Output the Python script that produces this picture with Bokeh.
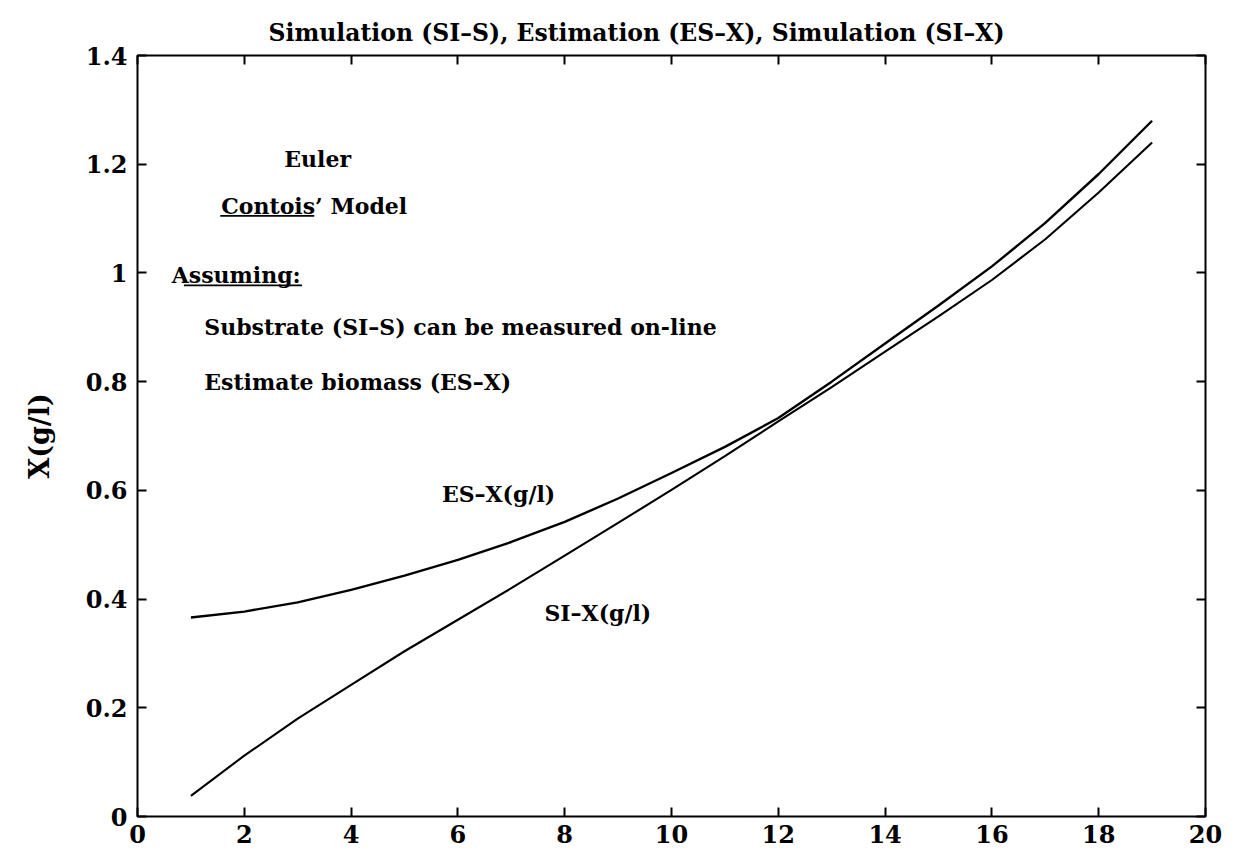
from bokeh.plotting import figure
from bokeh.models import LinearAxis, FixedTicker, Range1d
from bokeh.core.properties import value
from bokeh.embed import file_html
from bokeh.resources import INLINE

# Time axis (hours) and biomass concentrations X (g/l)
t = [1, 2, 3, 4, 5, 6, 7, 8, 9, 10, 11, 12, 13, 14, 15, 16, 17, 18, 19]
es_x = [0.366, 0.377, 0.394, 0.417, 0.443, 0.472, 0.505, 0.542, 0.585, 0.632,
        0.680, 0.733, 0.800, 0.870, 0.940, 1.012, 1.092, 1.182, 1.280]
si_x = [0.038, 0.112, 0.180, 0.242, 0.304, 0.362, 0.420, 0.480, 0.540, 0.601,
        0.663, 0.727, 0.790, 0.855, 0.920, 0.987, 1.062, 1.148, 1.240]

x_ticks = [0, 2, 4, 6, 8, 10, 12, 14, 16, 18, 20]
y_ticks = [0, 0.2, 0.4, 0.6, 0.8, 1.0, 1.2, 1.4]
y_tick_labels = ["0", "0.2", "0.4", "0.6", "0.8", "1", "1.2", "1.4"]

title_text = "Simulation (SI\u2013S), Estimation (ES\u2013X), Simulation (SI\u2013X)"
y_label = "X(g/l)"

# Annotation texts with their anchor points in data units
note_text = ["Euler", "Contois\u2019 Model", "Assuming:",
             "Substrate (SI\u2013S) can be measured on-line",
             "Estimate biomass (ES\u2013X)", "ES\u2013X(g/l)", "SI\u2013X(g/l)"]
note_x = [2.75, 1.57, 0.64, 1.25, 1.25, 5.70, 7.62]
note_y = [1.21, 1.123, 0.997, 0.90, 0.80, 0.594, 0.375]

SERIF = "DejaVu Serif"

p = figure(width=1244, height=856, output_backend="svg", toolbar_location=None,
           x_range=Range1d(0, 20), y_range=Range1d(0, 1.4),
           min_border_left=137, min_border_right=39, min_border_top=55,
           min_border_bottom=40, background_fill_color="white",
           border_fill_color="white")
p.frame_width = 1068
p.frame_height = 761

p.title.text = title_text
p.title.text_font = SERIF
p.title.text_font_style = "bold"
p.title.text_font_size = "23.5px"
p.title.text_color = "black"
p.title.align = "left"
p.title.offset = 131
p.title.standoff = 17

p.grid.visible = False
p.outline_line_color = "black"
p.outline_line_width = 2

p.line(t, es_x, line_color="black", line_width=2.4)
p.line(t, si_x, line_color="black", line_width=2.1)

p.text(x=note_x, y=note_y, text=note_text, text_font=value(SERIF),
       text_font_style="bold", text_font_size="22px", text_color="black",
       text_align="left", text_baseline="middle")

# underline under "Contois'" and "Assuming"
ul_y = [note_y[1] - 0.018, note_y[2] - 0.020]
p.segment(x0=[note_x[1] - 0.02, note_x[2] + 0.23], y0=ul_y,
          x1=[note_x[1] + 1.74, note_x[2] + 2.44], y1=ul_y,
          line_color="black", line_width=1.8)


def style_axis(ax, ticks, labels=True):
    ax.ticker = FixedTicker(ticks=ticks)
    ax.major_tick_in = 9
    ax.major_tick_out = 0
    ax.minor_tick_in = 0
    ax.minor_tick_out = 0
    ax.major_tick_line_width = 2
    ax.axis_line_color = None
    ax.major_label_text_font = SERIF
    ax.major_label_text_font_style = "bold"
    ax.major_label_text_font_size = "24px"
    ax.major_label_text_color = "black"
    if not labels:
        ax.major_label_text_alpha = 0
        ax.major_label_text_font_size = "1px"


xa = p.xaxis[0]
ya = p.yaxis[0]
top = LinearAxis()
right = LinearAxis()
p.add_layout(top, "above")
p.add_layout(right, "right")

style_axis(xa, x_ticks)
style_axis(ya, y_ticks)
style_axis(top, x_ticks, labels=False)
style_axis(right, y_ticks, labels=False)
xa.major_label_standoff = 8
ya.major_label_standoff = 10
ya.major_label_overrides = {v: s for v, s in zip(y_ticks, y_tick_labels)}

ya.axis_label = y_label
ya.axis_label_text_font = SERIF
ya.axis_label_text_font_style = "bold"
ya.axis_label_text_font_size = "27px"
ya.axis_label_text_color = "black"
ya.axis_label_standoff = 28

open("out.html", "w").write(file_html(p, INLINE))
